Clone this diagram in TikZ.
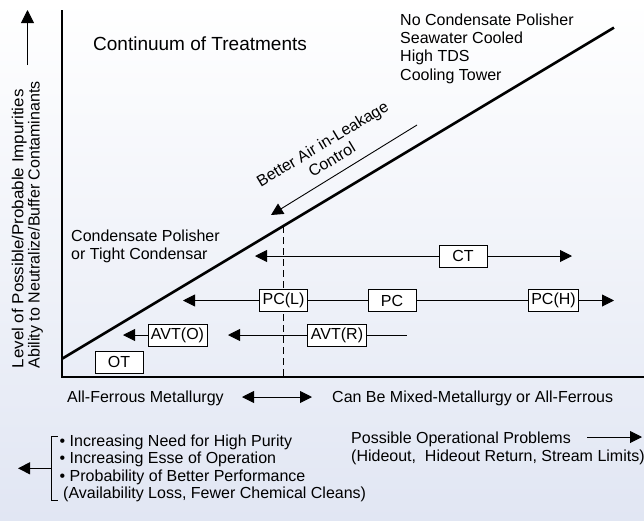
\documentclass[tikz,border=0pt]{standalone}
\usepackage{fontspec}
\setmainfont{Liberation Sans}
\usetikzlibrary{arrows.meta}
\definecolor{bgbot}{RGB}{225,230,243}
\tikzset{
  lbl/.style={font=\fontsize{16}{18.3}\selectfont, inner sep=0pt},
  tbox/.style={draw, fill=white, line width=0.9pt, minimum width=48pt, minimum height=22pt, inner xsep=3pt, inner ysep=0pt, font=\fontsize{16}{18}\selectfont},
  thinln/.style={line width=0.9pt},
  arr/.style={thinln, -{Triangle[length=12pt,width=12pt]}},
  darr/.style={thinln, {Triangle[length=12pt,width=12pt]}-{Triangle[length=12pt,width=12pt]}},
}
\begin{document}
\begin{tikzpicture}[x=1pt,y=-1pt]
\useasboundingbox (0,0) rectangle (644,520);
\shade[top color=white, bottom color=bgbot] (0,0) rectangle (644,520);

% axes
\coordinate (ytop) at (62,10);
\coordinate (origin) at (62,377);
\coordinate (xend) at (644,377);
\draw[line width=1.3pt] (ytop) -- (origin) -- (xend);

% diagonal
\coordinate (d1) at (62,358.8);
\coordinate (d2) at (614,27.6);
\draw[line width=2.6pt] (d1) -- (d2);

% dashed divider
\coordinate (dtop) at (283,226);
\coordinate (dbot) at (283,377);
\draw[thinln, dash pattern=on 7pt off 4pt] (dtop) -- (dbot);

% y label and arrow
\node[lbl, font=\fontsize{16}{16.3}\selectfont, rotate=90, anchor=north west, align=left] (ylab) at (11.6,368.5)
  {\resizebox{279pt}{\height}{Level of Possible/Probable Impurities}\\Ability to Neutralize/Buffer Contaminants};
\coordinate (ua1) at (27.5,65);
\coordinate (ua2) at (27.5,10);
\draw[thinln, -{Triangle[length=13pt,width=13pt]}] (ua1) -- (ua2);

% texts
\node[lbl, font=\fontsize{19}{22}\selectfont, anchor=base west] (title) at (93,50) {Continuum of Treatments};
\node[lbl, anchor=north west, align=left] (hi) at (400,13.4)
  {No Condensate Polisher\\Seawater Cooled\\High TDS\\Cooling Tower};
\node[lbl, anchor=north west, align=left] (lo) at (71,229.4)
  {Condensate Polisher\\or Tight Condensar};

% better air arrow
\coordinate (ba1) at (417,125);
\coordinate (ba2) at (271,215);
\draw[arr] (ba1) -- (ba2);
\node[lbl, rotate=31, align=center] (ba) at (327,151.5) {Better Air in-Leakage\\Control};

% boxes
\node[tbox] (ct) at (463,256) {CT};
\node[tbox] (pcl) at (283.5,300.5) {PC(L)};
\node[tbox] (pc) at (392,300.5) {PC};
\node[tbox] (pch) at (553.5,300.5) {PC(H)};
\node[tbox] (avto) at (177.5,335) {AVT(O)};
\node[tbox] (avtr) at (337,335) {AVT(R)};
\node[tbox] (ot) at (119,362) {OT};

% row connectors
\coordinate (ctl) at (255,256);
\coordinate (ctr) at (572,256);
\draw[arr] (ct) -- (ctl);
\draw[arr] (ct) -- (ctr);
\coordinate (pctip) at (183,300.5);
\coordinate (pchtip) at (614,300.5);
\draw[arr] (pcl) -- (pctip);
\draw[thinln] (pcl) -- (pc) -- (pch);
\draw[arr] (pch) -- (pchtip);
\coordinate (avtotip) at (123,335);
\coordinate (avtrtip) at (228,335);
\coordinate (avtrend) at (407,335);
\draw[arr] (avto) -- (avtotip);
\draw[arr] (avtr) -- (avtrtip);
\draw[thinln] (avtr) -- (avtrend);

% bottom
\node[lbl, anchor=base west] (af) at (67,402.7) {All-Ferrous Metallurgy};
\node[lbl, anchor=base west] (cb) at (332,402.7) {Can Be Mixed-Metallurgy or All-Ferrous};
\coordinate (da1) at (242,397);
\coordinate (da2) at (312,397);
\draw[darr] (da1) -- (da2);

\node[lbl, font=\fontsize{16}{17.6}\selectfont, anchor=north west, align=left] (bul) at (59.5,434.3)
  {• Increasing Need for High Purity\\• Increasing Esse of Operation\\• Probability of Better Performance\\\hspace{3.5pt}(Availability Loss, Fewer Chemical Cleans)};
\coordinate (bk1) at (57.5,436.7);
\coordinate (bk2) at (51.7,436.7);
\coordinate (bk3) at (51.7,500.7);
\coordinate (bk4) at (57.5,500.7);
\draw[thinln] (bk1) -- (bk2) -- (bk3) -- (bk4);
\coordinate (la1) at (51.7,468.3);
\coordinate (la2) at (18,468.3);
\draw[arr] (la1) -- (la2);

\node[lbl, anchor=north west, align=left] (pop) at (351,431.6)
  {Possible Operational Problems\\(Hideout,\ \ Hideout Return, Stream Limits)};
\coordinate (pa1) at (587,437);
\coordinate (pa2) at (642,437);
\draw[arr] (pa1) -- (pa2);
\end{tikzpicture}
\end{document}
